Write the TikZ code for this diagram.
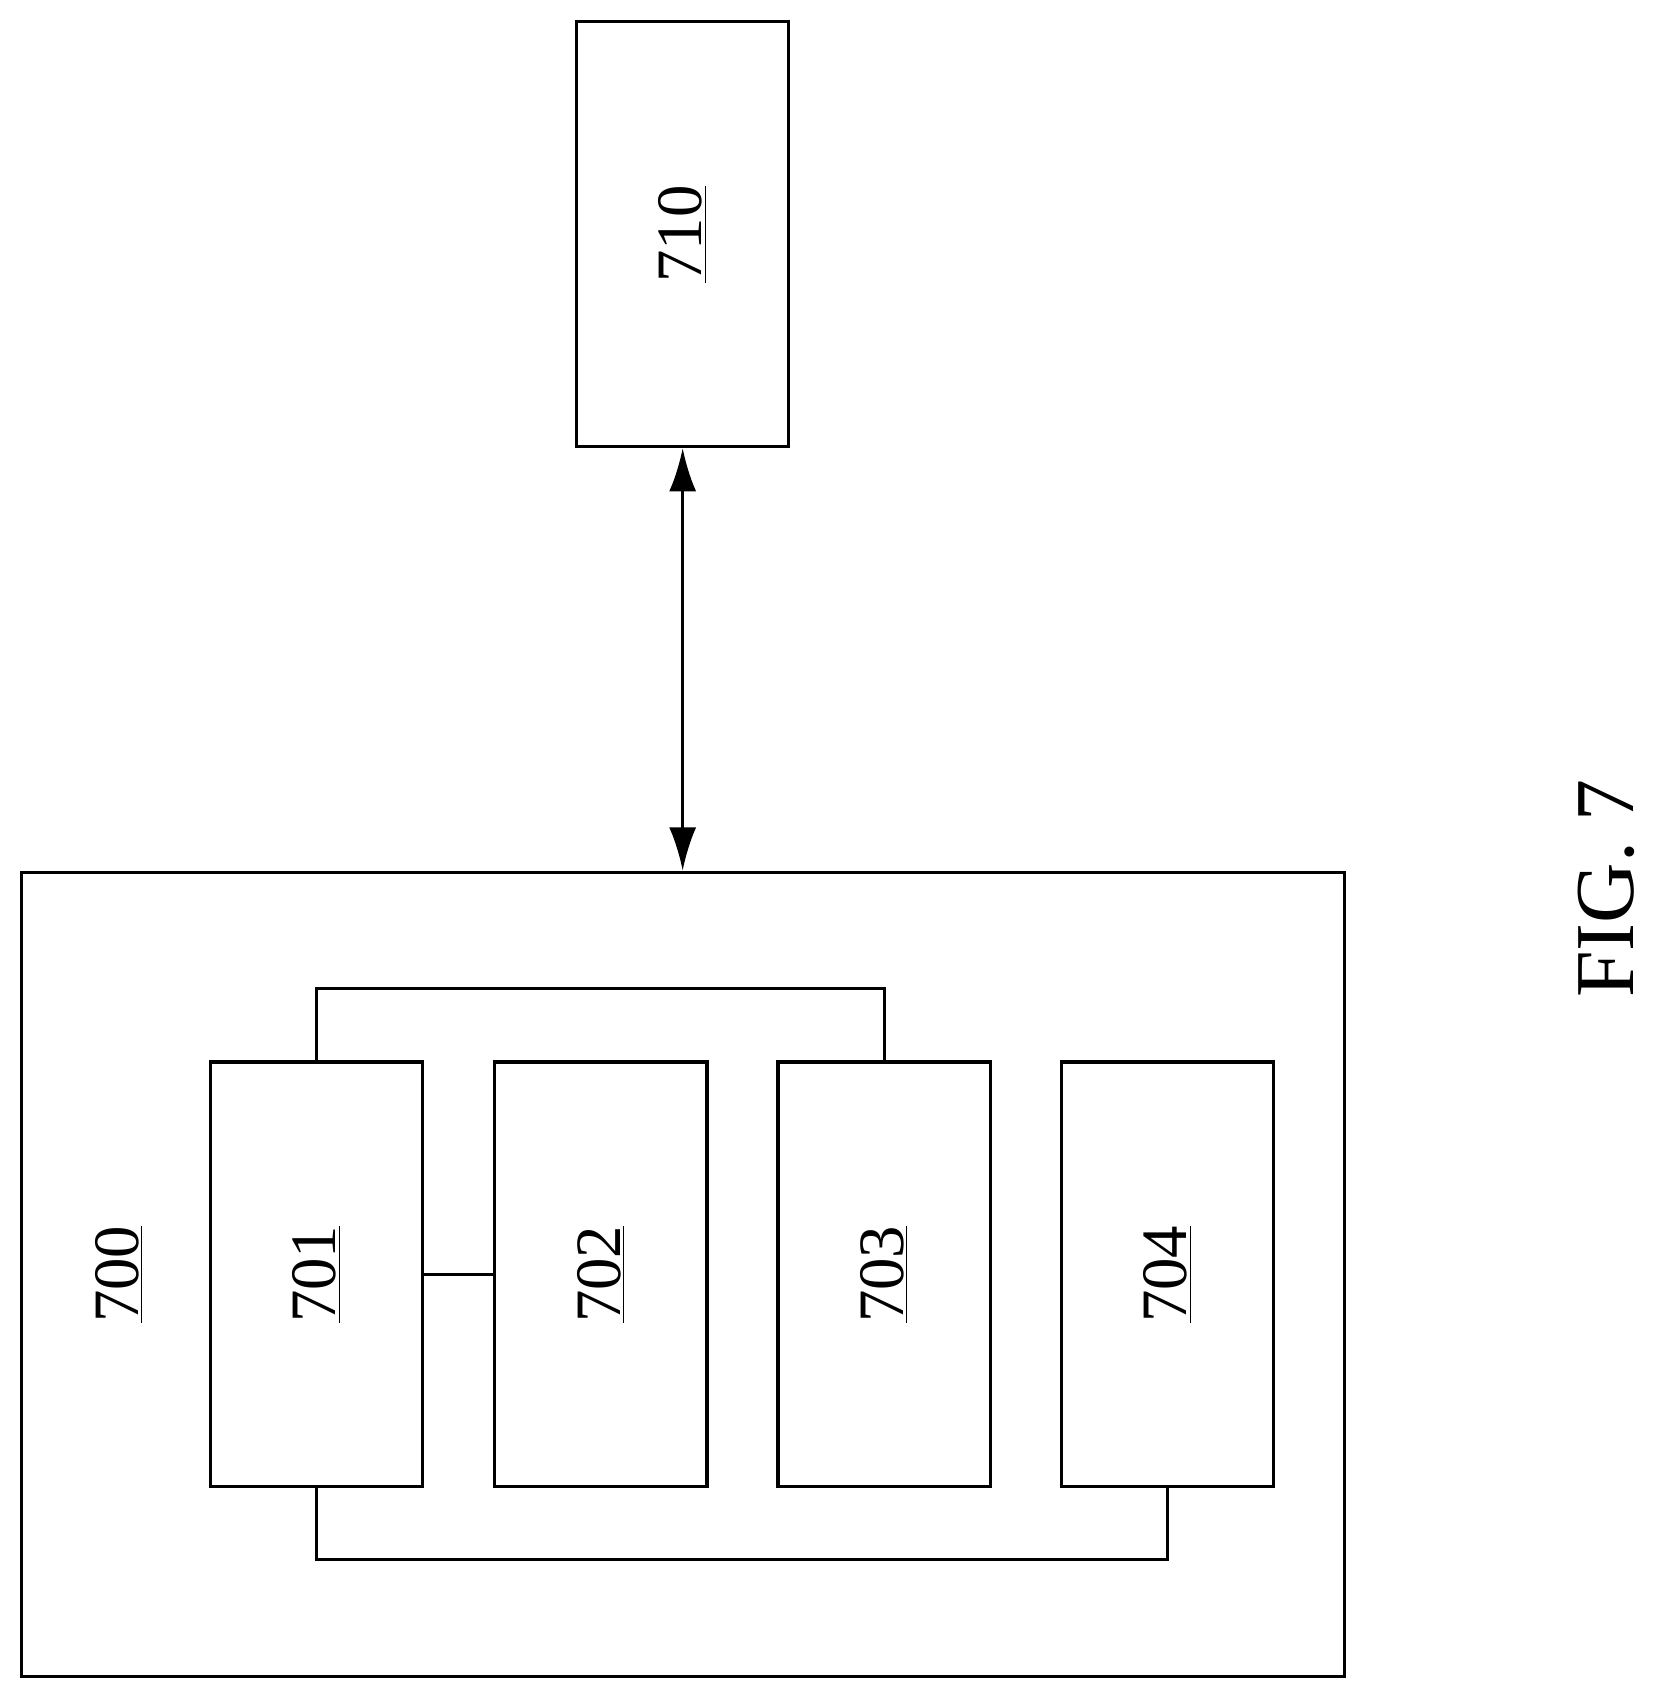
\documentclass[tikz,border=0pt]{standalone}
\usepackage{fontspec}
\setmainfont{Liberation Serif}
\usetikzlibrary{positioning}
\usetikzlibrary{arrows.meta}
\tikzset{
    block/.style = {
        draw, rectangle, line width=1.7pt, minimum width=3.92cm, minimum height=7.84cm
    },
    numtext/.style = {
        rotate=90, font=\fontsize{34}{34}\selectfont
    },
}
\begin{document}
\begin{tikzpicture}[x=0.02cm, y=-0.02cm]
        \useasboundingbox (0,0) rectangle (1527,1567);
        % Outer and remote blocks
        \node[block, minimum width=24.42cm, minimum height=14.84cm] (outer) at (630.5,1176) {};
        \node[block] (b710) at (630,216) {};
        \node[numtext] (t710) at (b710.center) {\underline{710}};
        \node[numtext] (t700) at (110,1176) {\underline{700}};

        % Inner blocks
        \foreach \n/\x in {701/292, 702/554.5, 703/816, 704/1077.5}{
            \node[block] (b\n) at (\x,1176) {};
            \node[numtext] at (b\n.center) {\underline{\n}};
        }

        % Connections
        \begin{scope}[line width=1.7pt]
            \draw (b701.north) -- ++(0,-66) -| (b703.north);
            \draw (b701.south) -- ++(0,66) -| (b704.south);
            \draw (b701.east) -- (b702.west);
            \draw[{Latex[length=0.8cm,width=0.5cm]}-{Latex[length=0.8cm,width=0.5cm]}] (b710.south) -- (outer.north -| b710.south);
        \end{scope}

        % Figure caption
        \node[rotate=90, font=\fontsize{44}{44}\selectfont] (fig) at (1482,820) {FIG. 7};
\end{tikzpicture}
\end{document}
